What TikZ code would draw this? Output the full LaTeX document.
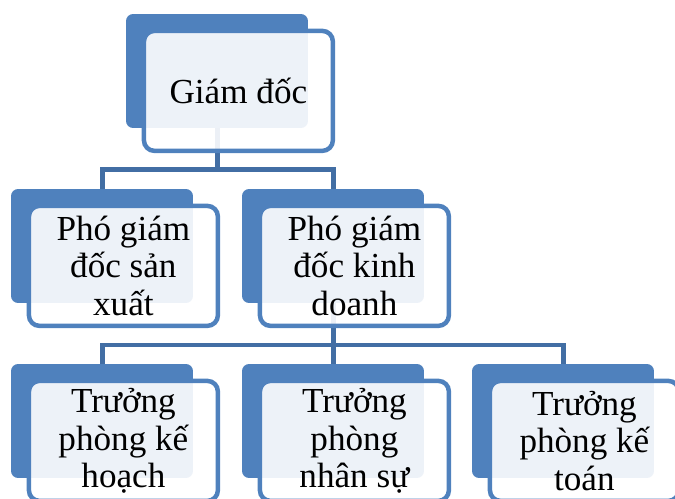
\documentclass[tikz,border=0pt]{standalone}
\usepackage{fontspec}
\setmainfont{Liberation Serif}
\usepackage{tikz}
\usetikzlibrary{positioning, calc}
\definecolor{myblue}{RGB}{79,129,189}
\definecolor{mylink}{RGB}{66,110,164}
\tikzset{
  backbox/.style={rectangle, fill=myblue, inner sep=0pt,
    minimum width=3.64cm, minimum height=2.28cm, rounded corners=4pt},
  frontbox/.style={rectangle, draw=myblue, fill=white, fill opacity=0.9,
    text opacity=1, line width=0.09cm, inner sep=0pt, anchor=north west,
    minimum width=3.78cm, minimum height=2.4cm, rounded corners=6pt,
    align=center, font=\fontsize{20}{21.5}\selectfont},
  link/.style={line width=0.1cm, color=mylink}
}

\begin{document}
\begin{tikzpicture}[x=0.02cm, y=-0.02cm]
  \useasboundingbox (0,0) rectangle (675,499);
  % back boxes
  \node[backbox] (gd) at (217,71) {};
  \node[backbox] (pgsx) at (102,246) {};
  \node[backbox] (pgkd) at (333,246) {};
  \node[backbox] (tpkh) at (102,421) {};
  \node[backbox] (tpns) at (333,421) {};
  \node[backbox] (tpkt) at (563,421) {};
  % connectors
  \coordinate (bar1) at (0,170);
  \coordinate (bar2) at (0,345);
  \draw[link] (gd.south) -- (gd.south |- bar1);
  \draw[link] (pgsx.north) |- (bar1 -| pgkd) -- (pgkd.north);
  \draw[link] (pgkd.south) -- (pgkd.south |- bar2);
  \draw[link] (tpkh.north) |- (bar2 -| tpkt) -- (tpkt.north);
  \draw[link] (tpns.north) -- (tpns.north |- bar2);
  % front boxes with text
  \node[frontbox] (gd-t) at ([shift={(16,15)}]gd.north west) {Giám đốc};
  \node[frontbox] (pgsx-t) at ([shift={(16,15)}]pgsx.north west) {Phó giám\\đốc sản\\xuất};
  \node[frontbox] (pgkd-t) at ([shift={(16,15)}]pgkd.north west) {Phó giám\\đốc kinh\\doanh};
  \node[frontbox] (tpkh-t) at ([shift={(16,15)}]tpkh.north west) {Trưởng\\phòng kế\\hoạch};
  \node[frontbox] (tpns-t) at ([shift={(16,15)}]tpns.north west) {Trưởng\\phòng\\nhân sự};
  \node[frontbox] (tpkt-t) at ([shift={(16,15)}]tpkt.north west) {Trưởng\\phòng kế\\toán};
\end{tikzpicture}
\end{document}
